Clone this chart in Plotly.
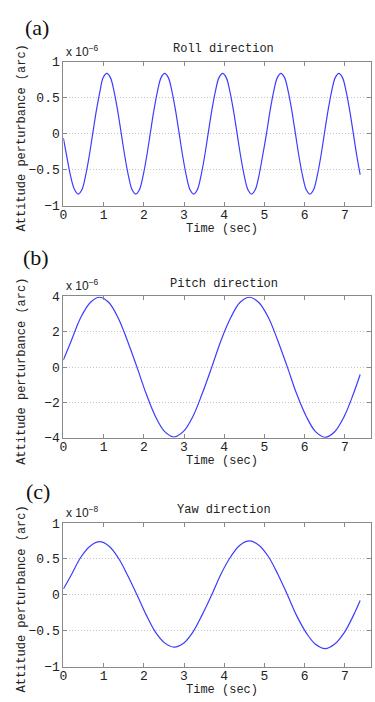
import plotly.graph_objects as go

# ---------------- data ----------------
roll_time = [0.00, 0.09, 0.18, 0.28, 0.37, 0.46, 0.55, 0.64, 0.73, 0.82, 0.91, 0.99,
             1.08, 1.17, 1.26, 1.35, 1.44, 1.53, 1.62, 1.71, 1.80, 1.89, 1.98, 2.07,
             2.16, 2.25, 2.34, 2.43, 2.52, 2.61, 2.70, 2.79, 2.88, 2.97, 3.06, 3.15,
             3.24, 3.33, 3.42, 3.51, 3.60, 3.69, 3.78, 3.87, 3.96, 4.05, 4.14, 4.23,
             4.32, 4.41, 4.50, 4.59, 4.68, 4.77, 4.86, 4.95, 5.05, 5.14, 5.23, 5.32,
             5.41, 5.50, 5.59, 5.68, 5.77, 5.86, 5.95, 6.04, 6.13, 6.22, 6.31, 6.40,
             6.49, 6.58, 6.67, 6.76, 6.85, 6.94, 7.03, 7.12, 7.21, 7.30, 7.38]
roll_vals = [-0.06, -0.33, -0.59, -0.78, -0.84, -0.78, -0.59, -0.32, 0.00, 0.32, 0.59, 0.78,
             0.84, 0.78, 0.59, 0.32, 0.00, -0.32, -0.59, -0.78, -0.84, -0.78, -0.59, -0.32,
             0.00, 0.32, 0.59, 0.78, 0.84, 0.78, 0.59, 0.32, 0.00, -0.32, -0.59, -0.78,
             -0.84, -0.78, -0.59, -0.32, 0.00, 0.32, 0.59, 0.78, 0.84, 0.78, 0.59, 0.32,
             0.00, -0.32, -0.59, -0.78, -0.84, -0.78, -0.59, -0.32, 0.00, 0.32, 0.59, 0.78,
             0.84, 0.78, 0.59, 0.32, 0.00, -0.32, -0.59, -0.78, -0.84, -0.78, -0.59, -0.32,
             0.00, 0.32, 0.59, 0.78, 0.84, 0.78, 0.59, 0.32, 0.00, -0.32, -0.57]

pitch_time = [0.00, 0.20, 0.43, 0.67, 0.90, 1.13, 1.36, 1.59, 1.83, 2.06, 2.29, 2.52,
              2.75, 2.98, 3.22, 3.45, 3.69, 3.92, 4.16, 4.39, 4.63, 4.86, 5.10, 5.33,
              5.57, 5.80, 6.04, 6.27, 6.51, 6.74, 6.98, 7.21, 7.38]
pitch_vals = [0.40, 1.51, 2.79, 3.65, 3.95, 3.65, 2.79, 1.51, 0.00, -1.51, -2.79, -3.65,
              -3.95, -3.65, -2.79, -1.51, 0.00, 1.51, 2.79, 3.65, 3.95, 3.65, 2.79, 1.51,
              0.00, -1.51, -2.79, -3.65, -3.97, -3.67, -2.80, -1.52, -0.42]

yaw_time = [0.00, 0.20, 0.43, 0.67, 0.90, 1.13, 1.36, 1.59, 1.83, 2.06, 2.29, 2.52,
            2.75, 2.98, 3.22, 3.45, 3.69, 3.92, 4.16, 4.39, 4.63, 4.86, 5.10, 5.33,
            5.57, 5.80, 6.04, 6.27, 6.51, 6.74, 6.98, 7.21, 7.38]
yaw_vals = [0.08, 0.28, 0.52, 0.68, 0.74, 0.68, 0.52, 0.28, 0.00, -0.28, -0.52, -0.67,
            -0.73, -0.68, -0.52, -0.28, 0.00, 0.29, 0.53, 0.69, 0.75, 0.69, 0.53, 0.29,
            0.00, -0.29, -0.53, -0.69, -0.75, -0.69, -0.53, -0.29, -0.08]

x_ticks = [0, 1, 2, 3, 4, 5, 6, 7]
roll_yticks = [-1, -0.5, 0, 0.5, 1]
roll_ytext = ["−1", "−0.5", "0", "0.5", "1"]
pitch_yticks = [-4, -2, 0, 2, 4]
pitch_ytext = ["−4", "−2", "0", "2", "4"]
yaw_yticks = [-1, -0.5, 0, 0.5, 1]
yaw_ytext = ["−1", "−0.5", "0", "0.5", "1"]

panel_titles = ["Roll direction", "Pitch direction", "Yaw direction"]
panel_letters = ["(a)", "(b)", "(c)"]
exponents = ["−6", "−6", "−8"]

# ---------------- layout helpers ----------------
W, H = 375, 702
def fx(p):
    return p / W
def fy(p):
    return 1 - p / H

MONO = "Liberation Mono"
LINE = "rgb(60,60,255)"
FRAME = "#8a8a8a"

fig = go.Figure()
series = [(roll_time, roll_vals), (pitch_time, pitch_vals), (yaw_time, yaw_vals)]
for i, (t, v) in enumerate(series):
    suffix = "" if i == 0 else str(i + 1)
    fig.add_trace(go.Scatter(x=t, y=v, mode="lines", xaxis="x" + suffix, yaxis="y" + suffix,
                             line=dict(color=LINE, width=1.2, shape="spline", smoothing=1.0),
                             showlegend=False, hoverinfo="skip"))

# panel pixel extents (top, bottom)
panels = [(57, 204), (296.7, 441.3), (528.3, 675)]
yranges = [(-1, 1), (-4, 4), (-1, 1)]
yticks = [(roll_yticks, roll_ytext), (pitch_yticks, pitch_ytext), (yaw_yticks, yaw_ytext)]
x_left, x_right = 60, 371
xr = (0, 7.65)

layout = dict(width=W, height=H, margin=dict(l=0, r=0, t=0, b=0),
              paper_bgcolor="white", plot_bgcolor="white", showlegend=False)
annotations = []
for i, ((top, bot), yr, (tv, tt)) in enumerate(zip(panels, yranges, yticks)):
    suffix = "" if i == 0 else str(i + 1)
    layout["xaxis" + suffix] = dict(
        domain=[fx(x_left), fx(x_right)], anchor="y" + suffix, range=list(xr),
        tickvals=x_ticks, ticks="inside", ticklen=4, tickcolor=FRAME,
        showline=True, linecolor=FRAME, linewidth=1, mirror="ticks",
        showgrid=False, zeroline=False, ticklabelstandoff=-3,
        tickfont=dict(family=MONO, size=13, color="#222"))
    layout["yaxis" + suffix] = dict(
        domain=[fy(bot), fy(top)], anchor="x" + suffix, range=list(yr),
        tickvals=tv, ticktext=tt, ticks="inside", ticklen=4, tickcolor=FRAME,
        showline=True, linecolor=FRAME, linewidth=1, mirror="ticks",
        showgrid=True, gridcolor="#c4c4c4", griddash="1px,2px", gridwidth=1,
        zeroline=False, tickfont=dict(family=MONO, size=13, color="#222"))
    # title
    annotations.append(dict(text=panel_titles[i], x=fx(222), y=fy(top - 13), xref="paper", yref="paper",
                            showarrow=False, xanchor="center", yanchor="middle",
                            font=dict(family=MONO, size=12, color="#222")))
    # exponent
    annotations.append(dict(text="x 10<sup>" + exponents[i] + "</sup>", x=fx(61), y=fy(top - 1),
                            xref="paper", yref="paper", showarrow=False, xanchor="left", yanchor="bottom",
                            font=dict(family="Liberation Sans", size=12, color="#222")))
    # x title
    annotations.append(dict(text="Time (sec)", x=fx(220), y=fy(bot + 24), xref="paper", yref="paper",
                            showarrow=False, xanchor="center", yanchor="middle",
                            font=dict(family=MONO, size=12, color="#222")))
    # y title
    annotations.append(dict(text="Attitude perturbance (arc)", x=fx(18), y=fy((top + bot) / 2 + 4),
                            xref="paper", yref="paper", showarrow=False, textangle=-90,
                            xanchor="center", yanchor="middle",
                            font=dict(family=MONO, size=12, color="#222")))
# panel letters
for letter, (cx, cy) in zip(panel_letters, [(33, 22), (32, 257), (34, 496)]):
    annotations.append(dict(text=letter, x=fx(cx), y=fy(cy), xref="paper", yref="paper",
                            showarrow=False, xanchor="center", yanchor="middle",
                            font=dict(family="Liberation Serif", size=22, color="#111")))

layout["annotations"] = annotations
fig.update_layout(**layout)
fig.write_html("out.html")
